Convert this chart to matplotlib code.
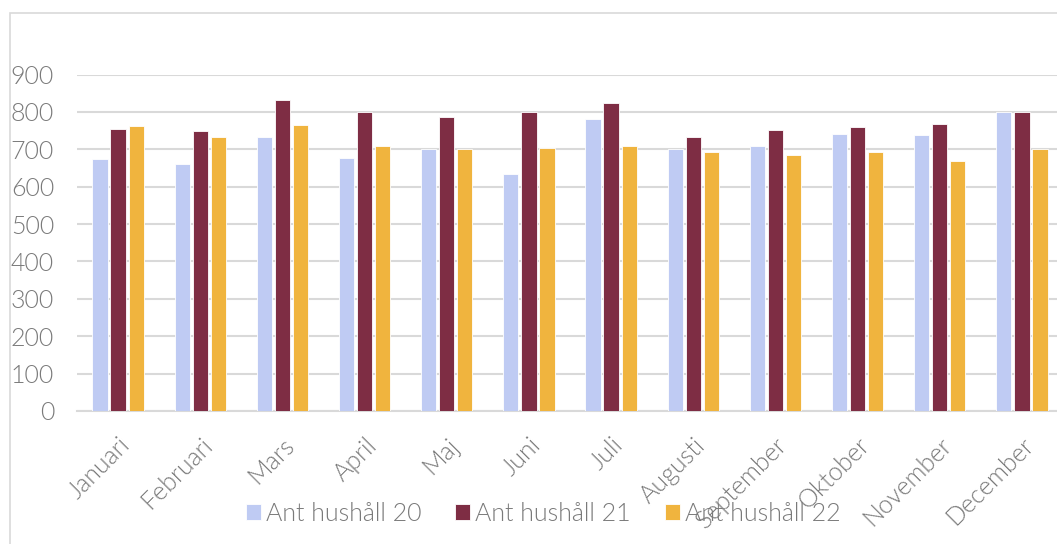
import numpy as np
import matplotlib.pyplot as plt
from matplotlib.patches import Rectangle

plt.rcParams["font.family"] = ["Lato", "DejaVu Sans"]
plt.rcParams["font.weight"] = 300

months = ["Januari", "Februari", "Mars", "April", "Maj", "Juni", "Juli",
          "Augusti", "September", "Oktober", "November", "December"]
hush20 = [673, 660, 734, 677, 701, 633, 782, 701, 710, 740, 738, 800]
hush21 = [754, 748, 833, 801, 785, 799, 823, 734, 752, 759, 768, 801]
hush22 = [761, 734, 766, 709, 702, 703, 709, 693, 686, 692, 669, 701]
labels = ["Ant hushåll 20", "Ant hushåll 21", "Ant hushåll 22"]
colors = ["#BFCBF3", "#7E2D44", "#F0B43E"]

W, H = 1057, 544
fig = plt.figure(figsize=(W / 100, H / 100), dpi=100)

# chart frame (cropped on the right/bottom in the original)
fig.patches.append(Rectangle((10 / W, -0.1), 1.2, 1 - 13 / H + 0.1,
                             transform=fig.transFigure, fill=False,
                             edgecolor="#d9d9d9", linewidth=1.2))

ax = fig.add_axes([77 / W, 1 - 411 / H, (1063 - 77) / W, (411 - 74.5) / H])

x = np.arange(len(months))
w = 0.185
step = 0.22
for i, (vals, lab, c) in enumerate(zip([hush20, hush21, hush22], labels, colors)):
    ax.bar(x + (i - 1) * step, vals, width=w, color=c, label=lab,
           edgecolor="white", linewidth=0.6, zorder=3)

ax.set_xlim(-0.5, len(months) - 0.5)
ax.set_ylim(0, 900)
ax.set_yticks(range(0, 901, 100))
ax.grid(axis="y", color="#d9d9d9", linewidth=1.5, zorder=0)
for s in ["top", "right", "left"]:
    ax.spines[s].set_visible(False)
ax.spines["bottom"].set_color("#d9d9d9")
ax.spines["bottom"].set_linewidth(1.5)
ax.tick_params(length=0, colors="#7a7a7a", labelsize=18)
ax.tick_params(axis="y", pad=16.5)
ax.set_xticks(x)
ax.set_xticklabels(months, rotation=45, ha="right", rotation_mode="anchor")
ax.tick_params(axis="x", pad=16)

leg = fig.legend(loc="center", bbox_to_anchor=(543 / W, 1 - 514 / H),
                 ncol=3, frameon=False, fontsize=18, handlelength=0.6,
                 handleheight=0.6, handletextpad=0.2, columnspacing=1.35)
for t in leg.get_texts():
    t.set_color("#7a7a7a")

fig.savefig("out.png", dpi=100)
